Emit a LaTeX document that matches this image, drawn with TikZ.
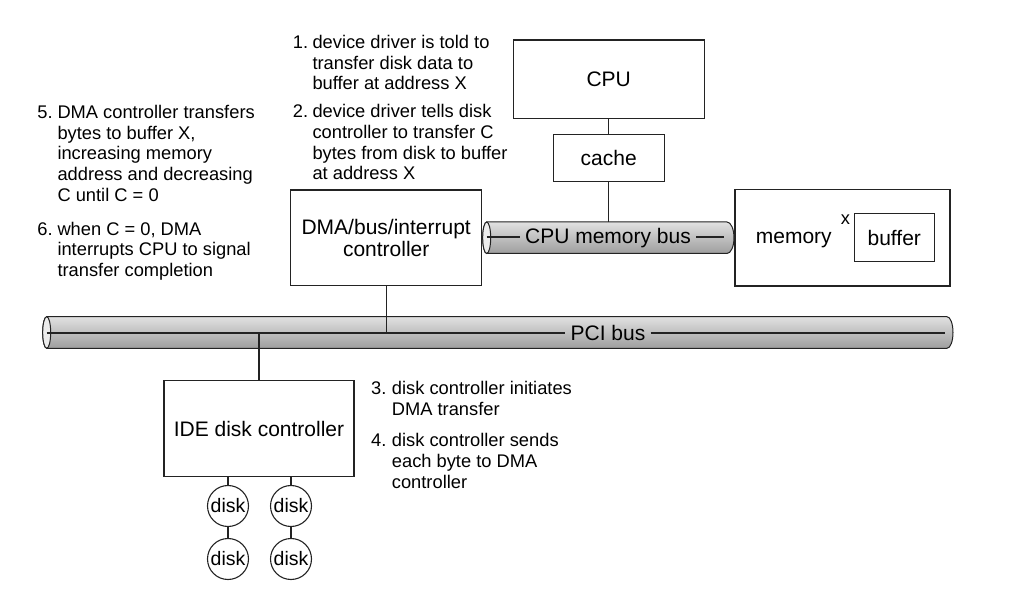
\documentclass[tikz,border=0pt]{standalone}
\usepackage{fontspec}
\setmainfont{Liberation Sans}
\usepackage{xcolor}
\definecolor{traco}{RGB}{35,35,35}
\definecolor{busClaro}{RGB}{225,225,225}
\definecolor{busEscuro}{RGB}{158,158,158}
\definecolor{tampa}{RGB}{236,236,236}
\newcommand\rotulofont{\fontsize{21}{21.7}\selectfont}
\newcommand\notafont{\fontsize{18.3}{20.7}\selectfont}
\usetikzlibrary{positioning,calc}

\begin{document}
\begin{tikzpicture}[
    x=1pt,y=-1pt,
    caixa/.style={draw=traco,line width=1.1pt,inner sep=0pt,font=\rotulofont,align=center},
    disco/.style={draw=traco,line width=1.1pt,circle,inner sep=0pt,minimum size=41pt,
      font=\fontsize{19.5}{20}\selectfont},
    nota/.style={anchor=north west,inner sep=0pt,align=left,font=\notafont},
    rotbus/.style={anchor=base,inner xsep=5pt,inner ysep=0pt,font=\rotulofont},
    liga/.style={draw=traco,line width=1.1pt},
    cilindro/.style={draw=traco,line width=1pt,top color=busClaro,bottom color=busEscuro}
    ]
    \useasboundingbox (0,0) rectangle (1018,601);

    % boxes
    \node[caixa,minimum width=190.7pt,minimum height=78.7pt] (cpu) at (608.7,79.4) {CPU};
    \node[caixa,minimum width=110.7pt,minimum height=47.4pt] (cache) at (608.7,158) {cache};
    \node[caixa,minimum width=191pt,minimum height=95.3pt] (dma) at (386.2,237.7)
      {DMA/bus/interrupt\\controller};
    \node[caixa,minimum width=215pt,minimum height=96.7pt] (mem) at (842.5,237.7) {};
    \node[anchor=base,inner sep=0pt,font=\rotulofont] (memlbl) at (793.8,243.3) {memory};
    \node[caixa,minimum width=80pt,minimum height=48.4pt] (buf) at (894.3,237.5) {buffer};
    \node[anchor=base,inner sep=0pt,font=\notafont] (bufx) at (845.5,224.3) {x};
    \node[caixa,minimum width=190pt,minimum height=96pt] (ide) at (259,428.7) {IDE disk controller};

    % CPU memory bus
    \draw[cilindro] (486.7,222) -- (727,222)
      arc[start angle=90,end angle=-90,x radius=7pt,y radius=15.75pt] -- (486.7,253.5)
      arc[start angle=270,end angle=90,x radius=4pt,y radius=15.75pt] -- cycle;
    \draw[draw=traco,line width=1pt,fill=tampa] (486.7,237.75) ellipse[x radius=4pt,y radius=15.75pt];
    \coordinate (cmbE) at (486.7,237);
    \coordinate (cmbD) at (724,237);
    \coordinate (cmbTopo) at (608.7,222);
    \node[rotbus] (cmb) at (608,243.3) {CPU memory bus};
    \draw[liga] (cmbE) -- (cmb.west |- cmbE);
    \draw[liga] (cmb.east |- cmbD) -- (cmbD);

    % PCI bus
    \draw[cilindro] (46.7,316.7) -- (947,316.7)
      arc[start angle=90,end angle=-90,x radius=6pt,y radius=15.8pt] -- (46.7,348.3)
      arc[start angle=270,end angle=90,x radius=4pt,y radius=15.8pt] -- cycle;
    \draw[draw=traco,line width=1pt,fill=tampa] (46.7,332.5) ellipse[x radius=4pt,y radius=15.8pt];
    \coordinate (pciE) at (46.7,333);
    \coordinate (pciD) at (945,333);
    \node[rotbus] (pci) at (608,340.5) {PCI bus};
    \draw[liga] (pciE) -- (pci.west |- pciE);
    \draw[liga] (pci.east |- pciD) -- (pciD);

    % links
    \draw[liga] (cpu) -- (cache);
    \draw[liga] (cache) -- (cmbTopo);
    \draw[liga] (dma) -- (dma.south |- pciE);
    \draw[liga] (ide.north |- pciE) -- (ide);

    % disks
    \node[disco] (d1) at (228,506) {disk};
    \node[disco] (d2) at (291,506) {disk};
    \node[disco] (d3) at (228,559) {disk};
    \node[disco] (d4) at (291,559) {disk};
    \draw[liga] (d1.north |- ide.south) -- (d1);
    \draw[liga] (d2.north |- ide.south) -- (d2);
    \draw[liga] (d1) -- (d3);
    \draw[liga] (d2) -- (d4);

    % steps
    \node[nota] (n1) at (292.7,33.8) {\strut 1.};
    \node[nota] (t1) at (312.3,33.8) {\strut device driver is told to\\transfer disk data to\\buffer at address X};
    \node[nota] (n2) at (292.7,103.2) {\strut 2.};
    \node[nota] (t2) at (312.3,103.2) {\strut device driver tells disk\\controller to transfer C\\bytes from disk to buffer\\at address X};
    \node[nota] (n3) at (371,379.8) {\strut 3.};
    \node[nota] (t3) at (391.7,379.8) {\strut disk controller initiates\\DMA transfer};
    \node[nota] (n4) at (371,432.2) {\strut 4.};
    \node[nota] (t4) at (391.7,432.2) {\strut disk controller sends\\each byte to DMA\\controller};
    \node[nota] (n5) at (37.3,103.8) {\strut 5.};
    \node[nota] (t5) at (57.3,103.8) {\strut DMA controller transfers\\bytes to buffer X,\\increasing memory\\address and decreasing\\C until C = 0};
    \node[nota] (n6) at (37.3,220.5) {\strut 6.};
    \node[nota] (t6) at (57.3,220.5) {\strut when C = 0, DMA\\interrupts CPU to signal\\transfer completion};
  \end{tikzpicture}
\end{document}
